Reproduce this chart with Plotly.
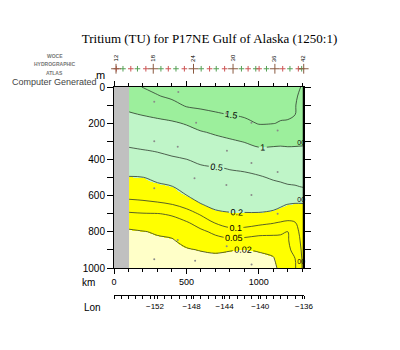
import numpy as np
import plotly.graph_objects as go

# ---------------- data ----------------
depth_m = [0, 50, 100, 150, 200, 250, 300, 350, 400, 450, 500,
           550, 600, 650, 700, 750, 800, 850, 900, 950, 1000]
station_km = [104, 200, 300, 400, 500, 600, 700, 800, 900, 1000,
              1100, 1150, 1200, 1250, 1312]

# tritium (TU) profile at each station, top (0 m) to bottom (1000 m)
tritium_by_station = [
    [1.30, 1.19, 1.09, 0.97, 0.84, 0.71, 0.58, 0.46, 0.37, 0.27, 0.19, 0.15, 0.115, 0.078, 0.045, 0.025, 0.018, 0.016, 0.013, 0.011, 0.008],
    [1.52, 1.35, 1.19, 1.02, 0.88, 0.75, 0.62, 0.49, 0.39, 0.29, 0.196, 0.16, 0.12, 0.082, 0.048, 0.031, 0.019, 0.016, 0.014, 0.011, 0.008],
    [1.60, 1.48, 1.28, 1.07, 0.92, 0.78, 0.65, 0.52, 0.42, 0.33, 0.24, 0.17, 0.13, 0.088, 0.049, 0.036, 0.022, 0.017, 0.014, 0.011, 0.008],
    [1.70, 1.57, 1.39, 1.15, 0.95, 0.82, 0.70, 0.57, 0.46, 0.37, 0.29, 0.195, 0.147, 0.098, 0.054, 0.038, 0.025, 0.018, 0.015, 0.011, 0.008],
    [1.75, 1.64, 1.54, 1.32, 1.03, 0.88, 0.75, 0.62, 0.497, 0.42, 0.35, 0.27, 0.196, 0.122, 0.073, 0.046, 0.036, 0.026, 0.018, 0.013, 0.008],
    [1.80, 1.68, 1.57, 1.41, 1.18, 0.97, 0.83, 0.69, 0.56, 0.46, 0.39, 0.33, 0.26, 0.192, 0.108, 0.065, 0.043, 0.032, 0.021, 0.014, 0.008],
    [1.80, 1.69, 1.59, 1.47, 1.26, 1.05, 0.89, 0.75, 0.61, 0.48, 0.42, 0.36, 0.30, 0.24, 0.17, 0.103, 0.057, 0.038, 0.023, 0.015, 0.008],
    [1.80, 1.70, 1.61, 1.51, 1.32, 1.13, 0.95, 0.80, 0.65, 0.51, 0.44, 0.38, 0.31, 0.25, 0.19, 0.13, 0.074, 0.040, 0.021, 0.014, 0.008],
    [1.80, 1.72, 1.63, 1.55, 1.42, 1.22, 1.02, 0.85, 0.69, 0.53, 0.45, 0.38, 0.32, 0.26, 0.19, 0.13, 0.071, 0.038, 0.019, 0.014, 0.008],
    [1.80, 1.73, 1.66, 1.59, 1.52, 1.35, 1.13, 0.93, 0.76, 0.59, 0.47, 0.40, 0.33, 0.26, 0.19, 0.115, 0.060, 0.037, 0.022, 0.014, 0.008],
    [1.75, 1.69, 1.63, 1.57, 1.51, 1.31, 1.10, 0.93, 0.80, 0.66, 0.53, 0.43, 0.34, 0.25, 0.17, 0.103, 0.057, 0.039, 0.026, 0.018, 0.015],
    [1.70, 1.65, 1.60, 1.55, 1.48, 1.28, 1.08, 0.93, 0.80, 0.68, 0.56, 0.44, 0.33, 0.22, 0.15, 0.095, 0.053, 0.044, 0.038, 0.031, 0.025],
    [1.65, 1.61, 1.57, 1.53, 1.48, 1.28, 1.09, 0.94, 0.82, 0.70, 0.59, 0.47, 0.33, 0.194, 0.14, 0.088, 0.0496, 0.046, 0.042, 0.039, 0.035],
    [1.55, 1.54, 1.52, 1.51, 1.40, 1.24, 1.08, 0.94, 0.83, 0.72, 0.61, 0.48, 0.32, 0.18, 0.12, 0.098, 0.086, 0.074, 0.062, 0.049, 0.045],
    [1.47, 1.40, 1.31, 1.25, 1.18, 1.11, 1.04, 0.96, 0.85, 0.74, 0.63, 0.52, 0.34, 0.18, 0.13, 0.125, 0.12, 0.12, 0.118, 0.116, 0.115],
]

levels = [0.02, 0.05, 0.1, 0.2, 0.5, 1.0, 1.5]
band_colors = ['#ffffc8', '#ffff00', '#ffff00', '#ffff00',
               '#bff5c8', '#bff5c8', '#9cef9c', '#9cef9c']

no_data_km = [0, 104]

sample_km = [278, 278, 278, 278, 444, 440, 440, 567, 556, 560, 776, 780, 776, 778,
             949, 949, 949, 950, 1130, 1130, 1130]
sample_depth = [81, 300, 560, 952, 28, 330, 845, 197, 504, 960, 145, 352, 541, 880,
                197, 420, 597, 980, 240, 470, 700]

station_marks_km = [16, 62, 116, 162, 220, 324, 375, 428, 486, 602, 660, 706, 764,
                    880, 926, 979, 1002, 1053, 1165, 1215, 1273, 1296]
station_mark_colors = ['#cc5555', '#55a055'] * 11
station_label_km = [14, 271, 549, 822, 1111, 1310]
station_label_text = ['12', '18', '24', '30', '36', '42']

lon_tick_km = [283, 536, 764, 1010, 1312]
lon_tick_text = ['\u2212152', '\u2212148', '\u2212144', '\u2212140', '\u2212136']

edge_mark_depth = [309, 624, 967]

# ---------------- figure ----------------
z = np.array(tritium_by_station).T
zmax = 2.0
edges = [0.0] + levels + [zmax]
colorscale = []
for i, c in enumerate(band_colors):
    colorscale.append([edges[i] / zmax, c])
    colorscale.append([edges[i + 1] / zmax, c])

fig = go.Figure()
fig.add_trace(go.Heatmap(x=station_km, y=depth_m, z=z, zsmooth='best',
                         colorscale=colorscale, zmin=0, zmax=zmax,
                         showscale=False, hoverinfo='skip'))

for lev in levels:
    fig.add_trace(go.Contour(
        x=station_km, y=depth_m, z=z, autocontour=False,
        contours=dict(start=lev, end=lev, size=1, coloring='none',
                      showlabels=True,
                      labelfont=dict(size=9, color='black', family='Liberation Sans')),
        line=dict(color='#2f3a2f', width=0.8, smoothing=1),
        showscale=False, hoverinfo='skip'))

fig.add_trace(go.Scatter(x=sample_km, y=sample_depth, mode='markers',
                         marker=dict(size=2, color='#8a8a8a'), hoverinfo='skip'))

fig.add_trace(go.Scatter(x=[1293] * len(edge_mark_depth), y=edge_mark_depth,
                         mode='text', text=['00'] * len(edge_mark_depth),
                         textfont=dict(size=7, color='black', family='Liberation Sans'),
                         cliponaxis=False, hoverinfo='skip'))

# station strip above the section (own axes)
MARK_ROW, LABEL_ROW = 0.2, 0.37
fig.add_trace(go.Scatter(x=station_marks_km, y=[MARK_ROW] * len(station_marks_km),
                         xaxis='x3', yaxis='y3', mode='markers', cliponaxis=False,
                         marker=dict(symbol='cross-thin', size=4,
                                     line=dict(width=1, color=station_mark_colors)),
                         hoverinfo='skip'))
fig.add_trace(go.Scatter(x=station_label_km, y=[MARK_ROW] * len(station_label_km),
                         xaxis='x3', yaxis='y3', mode='markers', cliponaxis=False,
                         marker=dict(symbol='cross-thin', size=7,
                                     line=dict(width=1, color='#8a5a40')),
                         hoverinfo='skip'))

# invisible trace to carry the Lon axis
fig.add_trace(go.Scatter(x=lon_tick_km, y=[500] * len(lon_tick_km), xaxis='x2',
                         mode='markers', marker=dict(opacity=0), hoverinfo='skip'))

fig.add_shape(type='rect', xref='x', yref='y', x0=no_data_km[0], x1=no_data_km[1],
              y0=0, y1=1000, fillcolor='#c0c0c0', line=dict(width=0), layer='above')
fig.add_shape(type='line', xref='x', yref='y', x0=1312, x1=1312, y0=0, y1=1000,
              line=dict(color='black', width=2.5), layer='above')

L, R, T, B = 114, 96, 20, 30
W, H = 400, 350
pw, ph = W - L - R, H - T - B


def px(xp):
    return (xp - L) / pw


def py(yp):
    return (H - B - yp) / ph


axis_font = dict(family='Liberation Sans', size=10, color='black')
fig.update_layout(
    width=W, height=H, margin=dict(l=L, r=R, t=T, b=B),
    paper_bgcolor='white', plot_bgcolor='white', showlegend=False,
    title=dict(text='Tritium (TU) for P17NE Gulf of Alaska (1250:1)',
               x=209.5 / W, y=1 - 38 / H, xanchor='center', yanchor='middle',
               xref='container', yref='container',
               font=dict(family='Liberation Serif', size=13, color='black')),
    xaxis=dict(range=[0, 1312], tickvals=[0, 500, 1000], ticks='outside', ticklen=5,
               tickcolor='black', minor=dict(dtick=100, ticks='outside', ticklen=3, tickcolor='black'),
               showline=True, linecolor='black', linewidth=1, mirror='allticks',
               showgrid=False, zeroline=False,
               tickfont=dict(family='Liberation Sans', size=9, color='black')),
    yaxis=dict(range=[1000, 0], domain=[py(268), py(87)], dtick=200, ticks='outside', ticklen=6,
               tickcolor='black', minor=dict(dtick=100, ticks='outside', ticklen=4, tickcolor='black'),
               showline=True, linecolor='black', linewidth=1, mirror='allticks',
               showgrid=False, zeroline=False, tickfont=axis_font),
    xaxis3=dict(matches='x', anchor='y3', visible=False, showgrid=False, zeroline=False),
    yaxis3=dict(domain=[py(87) + 0.01, 1], range=[-0.05, 1], anchor='x3', visible=False,
                showgrid=False, zeroline=False),
    xaxis2=dict(overlaying='x', anchor='free', position=py(295), range=[0, 1312],
                tickvals=lon_tick_km, ticktext=lon_tick_text, ticks='outside', ticklen=3,
                tickcolor='black', minor=dict(dtick=50, ticks='outside', ticklen=3, tickcolor='black'),
                showline=True, linecolor='black', linewidth=1, showgrid=False, zeroline=False,
                tickfont=dict(family='Liberation Sans', size=8, color='black')),
)

annots = [
    dict(text='Computer Generated', x=px(55), y=py(82), size=9, color='#444444'),
    dict(text='<b>WOCE</b>', x=px(55), y=py(56), size=5, color='#777777'),
    dict(text='<b>HYDROGRAPHIC</b>', x=px(55), y=py(64), size=5, color='#777777'),
    dict(text='<b>ATLAS</b>', x=px(55), y=py(73), size=5, color='#777777'),
    dict(text='m', x=px(100), y=py(75), size=11, color='black'),
    dict(text='km', x=px(88), y=py(282), size=10, color='black'),
    dict(text='Lon', x=px(92), y=py(307), size=10, color='black'),
]
for a in annots:
    fig.add_annotation(text=a['text'], x=a['x'], y=a['y'], xref='paper', yref='paper',
                       showarrow=False, xanchor='center', yanchor='middle',
                       font=dict(family='Liberation Sans', size=a['size'], color=a['color']))

for km, lab in zip(station_label_km, station_label_text):
    fig.add_annotation(text=lab, x=km, y=LABEL_ROW, xref='x3', yref='y3', showarrow=False,
                       textangle=-90, xanchor='center', yanchor='middle',
                       font=dict(family='Liberation Sans', size=6, color='black'))

fig.write_html('out.html')
